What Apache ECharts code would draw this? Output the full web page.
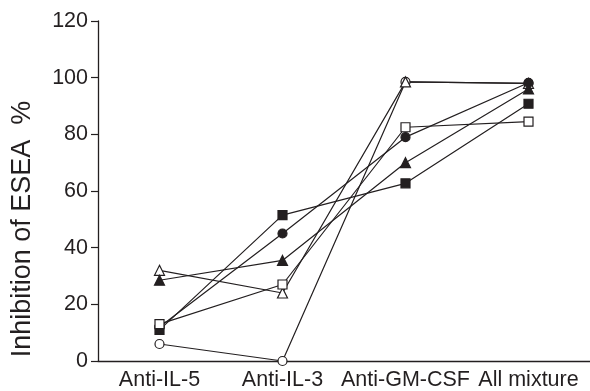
<!DOCTYPE html>
<html>
<head>
<meta charset="utf-8">
<script src="https://cdn.jsdelivr.net/npm/echarts@6/dist/echarts.min.js"></script>
<style>
html,body{margin:0;padding:0;background:#fff;}
#chart{width:590px;height:391px;}
</style>
</head>
<body>
<div id="chart"></div>
<script>
var categories = ['Anti-IL-5', 'Anti-IL-3', 'Anti-GM-CSF', 'All mixture'];
var yTicks = [0, 20, 40, 60, 80, 100, 120];
var openCircle = [6, 0, 98.5, 98];
var openTriangle = [32, 24, 98.5, 98];
var openSquare = [13, 27, 82.5, 84.5];
var filledCircle = [12, 45, 79, 98.2];
var filledTriangle = [28.5, 35.5, 70, 96];
var filledSquare = [11, 51.5, 62.7, 90.8];
var yTitle = 'Inhibition of ESEA  %';

var INK = '#231f20';
var FONT = '"Liberation Sans", Arial, Helvetica, sans-serif';

var groups = [
  {name: 'open circle', data: openCircle, symbol: 'circle', size: 9, fill: '#ffffff'},
  {name: 'open triangle', data: openTriangle, symbol: 'triangle', size: 10, fill: '#ffffff'},
  {name: 'filled circle', data: filledCircle, symbol: 'circle', size: 9, fill: INK},
  {name: 'filled triangle', data: filledTriangle, symbol: 'triangle', size: 10, fill: INK},
  {name: 'filled square', data: filledSquare, symbol: 'rect', size: 9, fill: INK},
  {name: 'open square', data: openSquare, symbol: 'rect', size: 9, fill: '#ffffff'}
];

var series = [];
groups.forEach(function (g) {
  series.push({
    type: 'line', name: g.name, data: g.data, showSymbol: false, symbol: 'none',
    lineStyle: {color: INK, width: 1.2}, z: 2, animation: false, silent: true
  });
});
groups.forEach(function (g) {
  series.push({
    type: 'scatter', name: g.name + ' marker', data: g.data, symbol: g.symbol, symbolSize: g.size,
    itemStyle: {color: g.fill, borderColor: INK, borderWidth: 1.2, opacity: 1}, z: 3,
    animation: false, silent: true
  });
});

var chart = echarts.init(document.getElementById('chart'), null, {renderer: 'canvas'});
chart.setOption({
  backgroundColor: '#ffffff',
  animation: false,
  grid: {left: 98, top: 21, width: 502, height: 340, containLabel: false},
  xAxis: {
    type: 'category', data: categories, boundaryGap: true,
    axisLine: {lineStyle: {color: INK, width: 1.3}},
    axisTick: {alignWithLabel: true, length: 6, lineStyle: {color: INK, width: 1.2}},
    axisLabel: {color: INK, fontSize: 21.5, fontFamily: FONT, margin: 8, interval: 0},
    splitLine: {show: false}
  },
  yAxis: {
    type: 'value', min: yTicks[0], max: yTicks[yTicks.length - 1], interval: 20,
    axisLine: {show: true, lineStyle: {color: INK, width: 1.3}},
    axisTick: {show: true, length: 7, lineStyle: {color: INK, width: 1.2}},
    axisLabel: {color: INK, fontSize: 21.5, fontFamily: FONT, margin: 10},
    splitLine: {show: false}
  },
  graphic: [{
    type: 'text', x: 23, y: 229, rotation: Math.PI / 2,
    style: {text: yTitle, fill: INK, font: '27px ' + FONT, textAlign: 'center', textVerticalAlign: 'middle'}
  }],
  series: series
});
</script>
</body>
</html>
